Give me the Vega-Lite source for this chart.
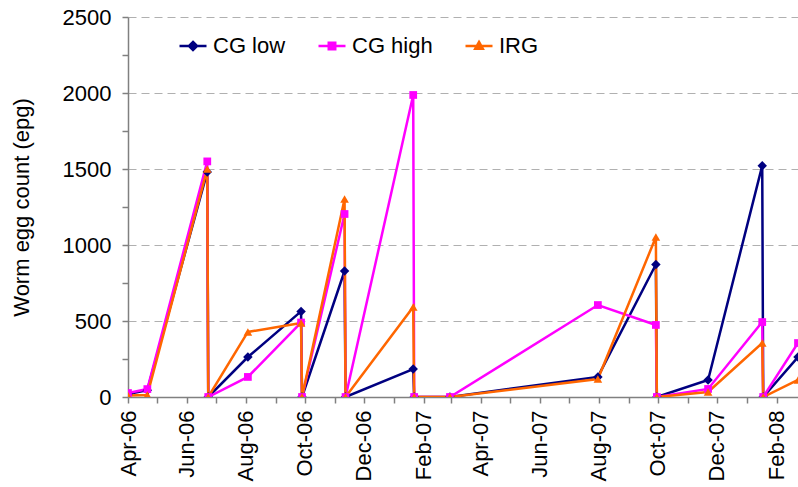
{
  "$schema": "https://vega.github.io/schema/vega-lite/v6.json",
  "width": 670,
  "height": 380,
  "autosize": {"type": "none"},
  "padding": {"left": 128, "top": 17, "right": 0, "bottom": 90},
  "background": "white",
  "config": {
    "view": {"stroke": null},
    "font": "Liberation Sans",
    "axis": {"labelFont": "Liberation Sans", "titleFont": "Liberation Sans", "labelColor": "black", "titleColor": "black", "domainColor": "#808080", "tickColor": "#808080", "domainWidth": 1.5, "tickWidth": 1.5},
    "legend": {"labelFont": "Liberation Sans"}
  },
  "data": {
    "values": [
      {"date": "2006-04-01", "series": "CG low", "value": 20},
      {"date": "2006-04-21", "series": "CG low", "value": 45},
      {"date": "2006-06-22", "series": "CG low", "value": 1480},
      {"date": "2006-06-23", "series": "CG low", "value": 0},
      {"date": "2006-08-03", "series": "CG low", "value": 263},
      {"date": "2006-09-27", "series": "CG low", "value": 563},
      {"date": "2006-09-28", "series": "CG low", "value": 0},
      {"date": "2006-11-11", "series": "CG low", "value": 829},
      {"date": "2006-11-12", "series": "CG low", "value": 0},
      {"date": "2007-01-21", "series": "CG low", "value": 184},
      {"date": "2007-01-22", "series": "CG low", "value": 0},
      {"date": "2007-02-28", "series": "CG low", "value": 0},
      {"date": "2007-07-31", "series": "CG low", "value": 132},
      {"date": "2007-09-29", "series": "CG low", "value": 872},
      {"date": "2007-09-30", "series": "CG low", "value": 0},
      {"date": "2007-11-22", "series": "CG low", "value": 112},
      {"date": "2008-01-17", "series": "CG low", "value": 1522},
      {"date": "2008-01-18", "series": "CG low", "value": 0},
      {"date": "2008-02-23", "series": "CG low", "value": 263},
      {"date": "2006-04-01", "series": "CG high", "value": 26},
      {"date": "2006-04-21", "series": "CG high", "value": 52},
      {"date": "2006-06-22", "series": "CG high", "value": 1550},
      {"date": "2006-06-23", "series": "CG high", "value": 0},
      {"date": "2006-08-03", "series": "CG high", "value": 132},
      {"date": "2006-09-27", "series": "CG high", "value": 490},
      {"date": "2006-09-28", "series": "CG high", "value": 0},
      {"date": "2006-11-11", "series": "CG high", "value": 1204},
      {"date": "2006-11-12", "series": "CG high", "value": 0},
      {"date": "2007-01-21", "series": "CG high", "value": 1987},
      {"date": "2007-01-22", "series": "CG high", "value": 0},
      {"date": "2007-02-28", "series": "CG high", "value": 0},
      {"date": "2007-07-31", "series": "CG high", "value": 605},
      {"date": "2007-09-29", "series": "CG high", "value": 474},
      {"date": "2007-09-30", "series": "CG high", "value": 0},
      {"date": "2007-11-22", "series": "CG high", "value": 53},
      {"date": "2008-01-17", "series": "CG high", "value": 493},
      {"date": "2008-01-18", "series": "CG high", "value": 0},
      {"date": "2008-02-23", "series": "CG high", "value": 355},
      {"date": "2006-04-01", "series": "IRG", "value": 10},
      {"date": "2006-04-21", "series": "IRG", "value": 13},
      {"date": "2006-06-22", "series": "IRG", "value": 1500},
      {"date": "2006-06-23", "series": "IRG", "value": 0},
      {"date": "2006-08-03", "series": "IRG", "value": 428},
      {"date": "2006-09-27", "series": "IRG", "value": 487},
      {"date": "2006-09-28", "series": "IRG", "value": 0},
      {"date": "2006-11-11", "series": "IRG", "value": 1303},
      {"date": "2006-11-12", "series": "IRG", "value": 0},
      {"date": "2007-01-21", "series": "IRG", "value": 592},
      {"date": "2007-01-22", "series": "IRG", "value": 0},
      {"date": "2007-02-28", "series": "IRG", "value": 0},
      {"date": "2007-07-31", "series": "IRG", "value": 118},
      {"date": "2007-09-29", "series": "IRG", "value": 1052},
      {"date": "2007-09-30", "series": "IRG", "value": 0},
      {"date": "2007-11-22", "series": "IRG", "value": 33},
      {"date": "2008-01-17", "series": "IRG", "value": 355},
      {"date": "2008-01-18", "series": "IRG", "value": 0},
      {"date": "2008-02-23", "series": "IRG", "value": 112}
    ]
  },
  "encoding": {
    "x": {
      "field": "date", "type": "temporal",
      "scale": {"type": "utc", "domain": [{"year": 2006, "month": 4, "date": 1, "utc": true}, {"year": 2008, "month": 2, "date": 23, "utc": true}]},
      "axis": {
        "title": null, "grid": false,
        "values": [
          {"year": 2006, "month": 4, "date": 1, "utc": true}, {"year": 2006, "month": 5, "date": 1, "utc": true},
          {"year": 2006, "month": 6, "date": 1, "utc": true}, {"year": 2006, "month": 7, "date": 1, "utc": true},
          {"year": 2006, "month": 8, "date": 1, "utc": true}, {"year": 2006, "month": 9, "date": 1, "utc": true},
          {"year": 2006, "month": 10, "date": 1, "utc": true}, {"year": 2006, "month": 11, "date": 1, "utc": true},
          {"year": 2006, "month": 12, "date": 1, "utc": true}, {"year": 2007, "month": 1, "date": 1, "utc": true},
          {"year": 2007, "month": 2, "date": 1, "utc": true}, {"year": 2007, "month": 3, "date": 1, "utc": true},
          {"year": 2007, "month": 4, "date": 1, "utc": true}, {"year": 2007, "month": 5, "date": 1, "utc": true},
          {"year": 2007, "month": 6, "date": 1, "utc": true}, {"year": 2007, "month": 7, "date": 1, "utc": true},
          {"year": 2007, "month": 8, "date": 1, "utc": true}, {"year": 2007, "month": 9, "date": 1, "utc": true},
          {"year": 2007, "month": 10, "date": 1, "utc": true}, {"year": 2007, "month": 11, "date": 1, "utc": true},
          {"year": 2007, "month": 12, "date": 1, "utc": true}, {"year": 2008, "month": 1, "date": 1, "utc": true},
          {"year": 2008, "month": 2, "date": 1, "utc": true}
        ],
        "labelExpr": "utcmonth(datum.value) % 2 == 1 ? utcFormat(datum.value, '%b-%y') : ''",
        "labelAngle": -90, "labelAlign": "right", "labelBaseline": "middle",
        "labelFontSize": 22, "labelPadding": 7, "tickSize": 6, "labelOverlap": false, "labelBound": false, "labelFlush": false
      }
    },
    "y": {
      "field": "value", "type": "quantitative",
      "scale": {"domain": [0, 2500], "nice": false},
      "axis": {
        "title": "Worm egg count (epg)", "titleFontSize": 22, "titleFontWeight": "normal", "titlePadding": 29,
        "values": [0, 250, 500, 750, 1000, 1250, 1500, 1750, 2000, 2250, 2500],
        "format": "d",
        "labelExpr": "datum.value % 500 == 0 ? datum.label : ''",
        "labelFontSize": 22, "labelPadding": 11, "tickSize": 6,
        "grid": true, "gridColor": "#b0b0b0", "gridDash": [8, 5], "gridWidth": 1,
        "gridOpacity": {"condition": {"test": "datum.value % 500 == 0 && datum.value > 0", "value": 1}, "value": 0},
        "labelOverlap": false, "labelBound": false, "labelFlush": false
      }
    },
    "color": {
      "field": "series", "type": "nominal",
      "scale": {"domain": ["CG low", "CG high", "IRG"], "range": ["#000080", "#FF00FF", "#FF6600"]},
      "legend": {
        "title": null, "orient": "none", "direction": "horizontal", "legendX": 50, "legendY": 14,
        "labelFontSize": 22, "labelOffset": 5, "columnPadding": 27, "symbolSize": 729,
        "labelColor": "black",
        "encode": {
          "symbols": {
            "update": {
              "shape": {"signal": "datum.value == 'CG low' ? 'M-1,0H1M0,-0.3L0.3,0L0,0.3L-0.3,0Z' : datum.value == 'CG high' ? 'M-1,0H1M-0.24,-0.24H0.24V0.24H-0.24Z' : 'M-1,0H1M0,-0.3L0.28,0.2H-0.28Z'"},
              "fill": {"scale": "color", "field": "value"},
              "stroke": {"scale": "color", "field": "value"},
              "strokeWidth": {"value": 2.5},
              "fillOpacity": {"value": 1},
              "opacity": {"value": 1}
            }
          }
        }
      }
    }
  },
  "layer": [
    {
      "mark": {"type": "line", "strokeWidth": 2.5, "clip": true}
    },
    {
      "transform": [{"filter": "datum.series == 'CG low'"}],
      "mark": {"type": "point", "filled": true, "size": 90, "opacity": 1, "clip": true, "shape": "diamond"}
    },
    {
      "transform": [{"filter": "datum.series == 'CG high'"}],
      "mark": {"type": "point", "filled": true, "size": 60, "opacity": 1, "clip": true, "shape": "square"}
    },
    {
      "transform": [{"filter": "datum.series == 'IRG'"}],
      "mark": {"type": "point", "filled": true, "size": 75, "opacity": 1, "clip": true, "shape": "triangle-up"}
    }
  ]
}
